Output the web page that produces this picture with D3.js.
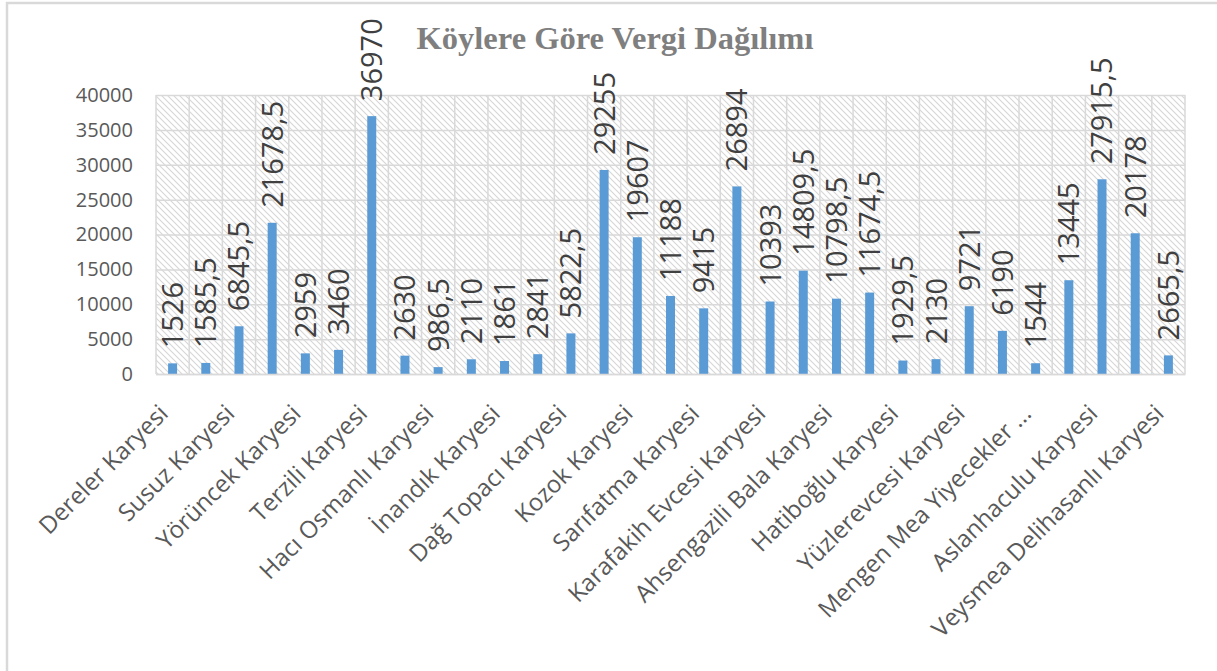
<!DOCTYPE html>
<html>
<head>
<meta charset="utf-8">
<script src="https://cdn.jsdelivr.net/npm/d3@7"></script>
<style>
  html, body { margin: 0; padding: 0; background: #fff; }
  svg { display: block; }
</style>
</head>
<body>
<svg id="chart" width="1217" height="671"></svg>
<script>
// ---- data ----
const title = "Köylere Göre Vergi Dağılımı";
// The axis shows every other category name; the hidden ones are left blank.
const categories = [
  "Dereler Karyesi", "", "Susuz Karyesi", "", "Yörüncek Karyesi", "",
  "Terzili Karyesi", "", "Hacı Osmanlı Karyesi", "", "İnandık Karyesi", "",
  "Dağ Topacı Karyesi", "", "Kozok Karyesi", "", "Sarıfatma Karyesi", "",
  "Karafakih Evcesi Karyesi", "", "Ahsengazili Bala Karyesi", "",
  "Hatiboğlu Karyesi", "", "Yüzlerevcesi Karyesi", "",
  "Mengen Mea Yiyecekler ...", "", "Aslanhaculu Karyesi", "",
  "Veysmea Delihasanlı Karyesi"
];
const values = [
  1526, 1585.5, 6845.5, 21678.5, 2959, 3460, 36970, 2630, 986.5, 2110, 1861,
  2841, 5822.5, 29255, 19607, 11188, 9415, 26894, 10393, 14809.5, 10798.5,
  11674.5, 1929.5, 2130, 9721, 6190, 1544, 13445, 27915.5, 20178, 2665.5
];
const yTicks = [0, 5000, 10000, 15000, 20000, 25000, 30000, 35000, 40000];

// ---- layout ----
const W = 1217, H = 671;
const plot = { left: 156, right: 1185, top: 95, bottom: 374 };
const svg = d3.select("#chart");

const fmt = v => String(v).replace(".", ",");

const x = d3.scaleBand()
  .domain(d3.range(values.length))
  .range([plot.left, plot.right])
  .paddingInner(0).paddingOuter(0);
const y = d3.scaleLinear().domain([0, 40000]).range([plot.bottom, plot.top]);

// outer chart border
svg.append("rect")
  .attr("x", 7).attr("y", 3).attr("width", W + 10).attr("height", H + 10)
  .attr("fill", "#fff").attr("stroke", "#d9d9d9").attr("stroke-width", 2.5);

// hatch pattern for plot background
const defs = svg.append("defs");
const pat = defs.append("pattern")
  .attr("id", "hatch").attr("patternUnits", "userSpaceOnUse")
  .attr("width", 6).attr("height", 6);
pat.append("rect").attr("width", 6).attr("height", 6).attr("fill", "#fff");
pat.append("path").attr("d", "M-1,-1 L7,7 M-1,5 L1,7 M5,-1 L7,1")
  .attr("stroke", "#d6d6d6").attr("stroke-width", 1.1);

svg.append("rect")
  .attr("x", plot.left).attr("y", plot.top)
  .attr("width", plot.right - plot.left).attr("height", plot.bottom - plot.top)
  .attr("fill", "url(#hatch)");

// title
svg.append("text")
  .attr("x", 615).attr("y", 49)
  .attr("text-anchor", "middle")
  .attr("font-family", "'Liberation Serif', 'Times New Roman', serif")
  .attr("font-weight", "bold")
  .attr("font-size", 32.5)
  .attr("fill", "#7f7f7f")
  .text(title);

// horizontal gridlines
const gy = d3.axisLeft(y).tickValues(yTicks)
  .tickSize(-(plot.right - plot.left)).tickFormat(d => d).tickPadding(23);
const gyG = svg.append("g").attr("transform", `translate(${plot.left},0)`).call(gy);
gyG.select(".domain").remove();
gyG.selectAll(".tick line").attr("stroke", "#d9d9d9").attr("stroke-width", 1.5);
gyG.selectAll(".tick text")
  .attr("font-family", "'Open Sans', sans-serif").attr("font-size", 20)
  .attr("fill", "#595959");

// vertical gridlines at band boundaries
const bounds = d3.range(values.length + 1);
svg.append("g").selectAll("line").data(bounds).join("line")
  .attr("x1", i => i < values.length ? x(i) : x(values.length - 1) + x.bandwidth())
  .attr("x2", i => i < values.length ? x(i) : x(values.length - 1) + x.bandwidth())
  .attr("y1", plot.top).attr("y2", plot.bottom)
  .attr("stroke", "#d9d9d9").attr("stroke-width", 1.5);

// bars
const bw = 9;
svg.append("g").selectAll("rect").data(values).join("rect")
  .attr("x", (d, i) => x(i) + x.bandwidth() / 2 - bw / 2)
  .attr("y", d => y(d))
  .attr("width", bw)
  .attr("height", d => y(0) - y(d))
  .attr("fill", "#5b9bd5");

// data labels (rotated)
svg.append("g").selectAll("text").data(values).join("text")
  .attr("transform", (d, i) => `translate(${x(i) + x.bandwidth() / 2},${y(d) - 15}) rotate(-90)`)
  .attr("dy", "0.36em")
  .attr("text-anchor", "start")
  .attr("font-family", "'Open Sans', sans-serif")
  .attr("font-size", 29)
  .attr("fill", "#404040")
  .text(d => fmt(d));

// x axis (category labels)
const gx = d3.axisBottom(x).tickSize(0).tickFormat(i => categories[i]);
const gxG = svg.append("g").attr("transform", `translate(0,${plot.bottom})`).call(gx);
gxG.select(".domain").attr("stroke", "#d9d9d9").attr("stroke-width", 1.5);
gxG.selectAll(".tick text")
  .attr("font-family", "'Open Sans', sans-serif").attr("font-size", 24)
  .attr("fill", "#595959")
  .attr("text-anchor", "end")
  .attr("dy", null).attr("y", null)
  .attr("transform", "translate(-3,41) rotate(-45)");
</script>
</body>
</html>
